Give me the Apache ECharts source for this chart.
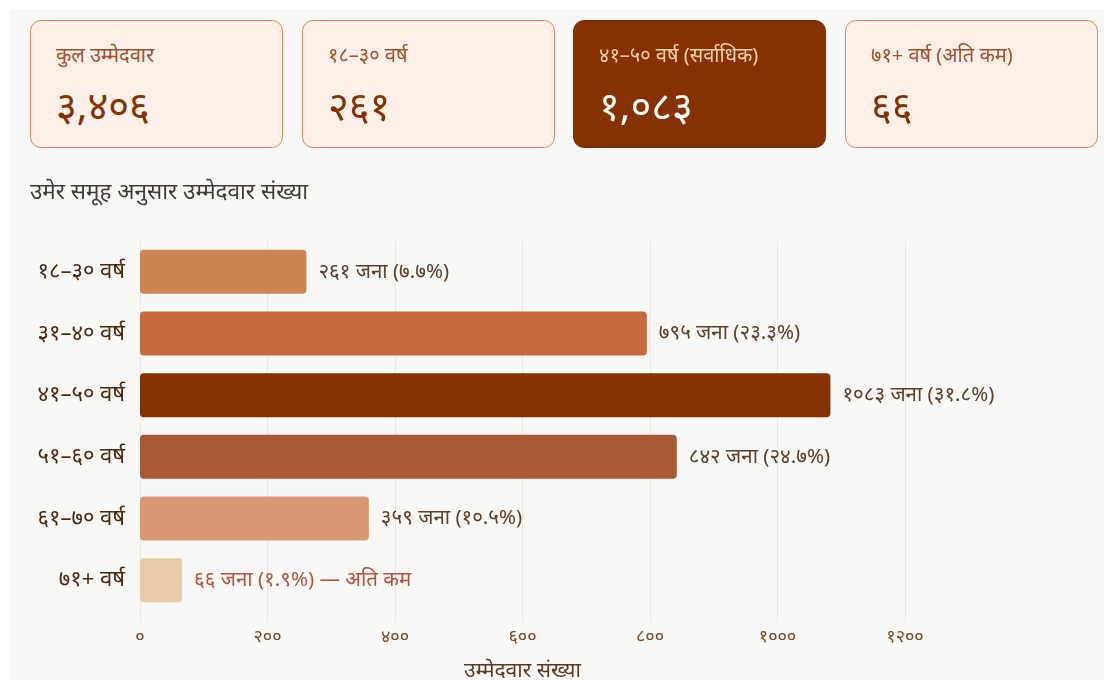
<!DOCTYPE html>
<html>
<head>
<meta charset="utf-8">
<script src="https://cdn.jsdelivr.net/npm/echarts@6/dist/echarts.min.js"></script>
<style>
  html, body { margin: 0; padding: 0; background: #ffffff; }
  body { width: 1104px; height: 680px; position: relative; overflow: hidden;
         font-family: "Noto Sans", "Noto Sans CJK SC", sans-serif; }
  #panel { position: absolute; left: 9px; top: 9px; width: 1095px; height: 671px; background: #f8f8f6; }
  #chart { position: absolute; left: 0; top: 0; width: 1104px; height: 680px; }
  .card { position: absolute; top: 20px; width: 251px; height: 126px; border: 1px solid #e9865e;
          border-radius: 11px; background: #fcf0e8; box-sizing: content-box; }
  .card .lbl { position: absolute; left: 25px; top: 34px; transform: translateY(-50%); font-size: 20px; line-height: 1; color: #a0522d; white-space: nowrap; }
  .card .num { position: absolute; left: 25px; top: 84px; transform: translateY(-50%); font-size: 40px; line-height: 1; color: #853200; white-space: nowrap; }
  .card.hi { background: #853200; border-color: #853200; }
  .card.hi .lbl { color: #f6cfae; }
  .card.hi .num { color: #ffffff; }
  #title { position: absolute; left: 30px; top: 191px; transform: translateY(-50%); line-height: 1; font-size: 22.5px; color: #3f3a36; white-space: nowrap; }
</style>
</head>
<body>
<div id="panel"></div>
<div id="chart"></div>
<div id="cards"></div>
<div id="title">उमेर समूह अनुसार उम्मेदवार संख्या</div>
<script>
// ---- data ----
const categories = ["१८–३० वर्ष", "३१–४० वर्ष", "४१–५० वर्ष", "५१–६० वर्ष", "६१–७० वर्ष", "७१+ वर्ष"];
const values = [261, 795, 1083, 842, 359, 66];
const barColors = ["#cd8450", "#c66b3d", "#853200", "#a85832", "#d99873", "#eacaa8"];
const xTicks = [0, 200, 400, 600, 800, 1000, 1200];
const cardLabels = ["कुल उम्मेदवार", "१८–३० वर्ष", "४१–५० वर्ष (सर्वाधिक)", "७१+ वर्ष (अति कम)"];
const cardValues = [3406, 261, 1083, 66];
const lowNote = " — अति कम";

const devDigits = "०१२३४५६७८९";
function dev(s) { return String(s).replace(/[0-9]/g, d => devDigits[+d]); }
function devComma(n) { return dev(n.toLocaleString("en-US")); }
const total = values.reduce((a, b) => a + b, 0);

// cards
const cardsEl = document.getElementById("cards");
const cardX = [30, 302, 573, 845];
cardLabels.forEach((l, i) => {
  const d = document.createElement("div");
  d.className = "card" + (i === 2 ? " hi" : "");
  d.style.left = cardX[i] + "px";
  d.innerHTML = '<div class="lbl">' + l + '</div><div class="num">' + devComma(cardValues[i]) + '</div>';
  cardsEl.appendChild(d);
});

const chart = echarts.init(document.getElementById("chart"), null, { renderer: "canvas" });
const FONT = '"Noto Sans", sans-serif';
chart.setOption({
  animation: false,
  backgroundColor: "transparent",
  grid: { left: 140, right: 199, top: 241, bottom: 69, containLabel: false, outerBoundsMode: "none" },
  xAxis: {
    type: "value", min: 0, max: xTicks[xTicks.length - 1], interval: xTicks[1] - xTicks[0],
    name: "उम्मेदवार संख्या", nameLocation: "middle", nameGap: 50,
    nameTextStyle: { fontSize: 21, color: "#5a3a22", fontFamily: FONT },
    axisLine: { show: false },
    axisTick: { show: true, length: 11, lineStyle: { color: "#ebe6e0", width: 1 } },
    axisLabel: { margin: 17, fontSize: 18, color: "#7a4a22", fontFamily: FONT,
                 formatter: v => dev(v) },
    splitLine: { show: true, lineStyle: { color: "#ebe6e0", width: 1 } }
  },
  yAxis: {
    type: "category", data: categories, inverse: true,
    axisLine: { show: false }, axisTick: { show: false },
    axisLabel: { margin: 15, fontSize: 22, color: "#4a2a10", fontFamily: FONT },
    splitLine: { show: false }
  },
  series: [{
    type: "bar", barWidth: 44,
    data: values.map((v, i) => ({ value: v, itemStyle: { color: barColors[i], borderRadius: 4 } })),
    label: {
      show: true, position: "right", distance: 12, fontSize: 20.5, fontFamily: FONT,
      color: "#5a3f2c",
      formatter: p => {
        const pct = (p.value / total * 100).toFixed(1);
        const s = dev(p.value) + " जना (" + dev(pct) + "%)";
        return p.dataIndex === values.length - 1 ? "{low|" + s + lowNote + "}" : s;
      },
      rich: { low: { color: "#b4533a", fontSize: 20.5, fontFamily: FONT } }
    }
  }]
});
</script>
</body>
</html>
